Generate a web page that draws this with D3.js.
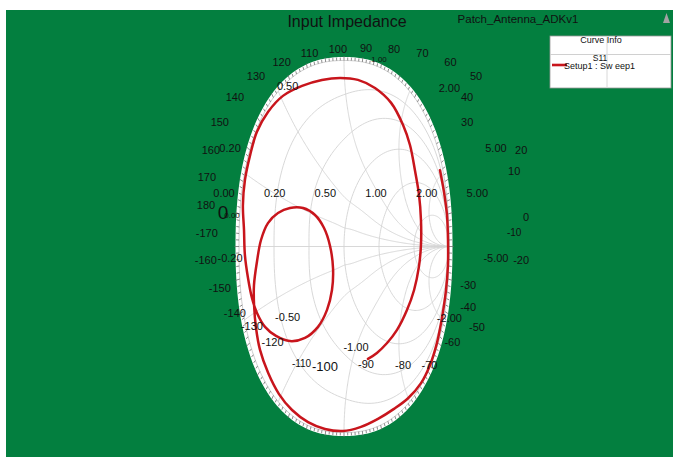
<!DOCTYPE html>
<html>
<head>
<meta charset="utf-8">
<script src="https://cdn.jsdelivr.net/npm/d3@7"></script>
<style>
  body { margin: 0; background: #fff; }
  svg { display: block; font-family: "Liberation Sans", Arial, sans-serif; }
</style>
</head>
<body>
<svg id="chart" width="673" height="457"></svg>
<script>
// S11 frequency sweep, reflection coefficient (real / imaginary)
const s11Re = [0.223, 0.303, 0.393, 0.483, 0.579, 0.654, 0.709, 0.733, 0.727, 0.698,
  0.651, 0.601, 0.538, 0.433, 0.289, 0.132, -0.038, -0.208, -0.388, -0.558,
  -0.692, -0.795, -0.864, -0.922, -0.952, -0.950, -0.943, -0.907, -0.861, -0.807,
  -0.726, -0.621, -0.492, -0.356, -0.239, -0.157, -0.111, -0.100, -0.133, -0.184,
  -0.266, -0.377, -0.502, -0.619, -0.719, -0.790, -0.827, -0.847, -0.838, -0.811,
  -0.768, -0.691, -0.593, -0.478, -0.335, -0.180, -0.010, 0.161, 0.317, 0.460,
  0.585, 0.701, 0.785, 0.854, 0.910, 0.960, 0.987, 0.990, 0.974, 0.936, 0.889];
const s11Im = [-0.591, -0.553, -0.497, -0.429, -0.330, -0.229, -0.109, 0.008, 0.140, 0.271,
  0.395, 0.522, 0.625, 0.745, 0.835, 0.891, 0.906, 0.885, 0.839, 0.777,
  0.691, 0.591, 0.475, 0.350, 0.220, 0.089, -0.046, -0.168, -0.272, -0.348,
  -0.417, -0.461, -0.486, -0.471, -0.417, -0.331, -0.227, -0.111, 0.003, 0.096,
  0.163, 0.200, 0.202, 0.177, 0.125, 0.035, -0.083, -0.205, -0.308, -0.424,
  -0.534, -0.649, -0.760, -0.849, -0.924, -0.973, -0.992, -0.963, -0.908, -0.844,
  -0.782, -0.702, -0.610, -0.500, -0.374, -0.231, -0.099, 0.035, 0.167, 0.288, 0.399];

// Smith chart grid
const resistanceValues = [0.2, 0.5, 1, 2, 5];
const reactanceValues = [0.2, 0.5, 1, 2, 5, -0.2, -0.5, -1, -2, -5];

// Labels
const angleLabels = [0, 10, 20, 30, 40, 50, 60, 70, 80, 90, 100, 110, 120, 130, 140, 150, 160, 170, 180,
  -170, -160, -150, -140, -130, -120, -110, -100, -90, -80, -70, -60, -50, -40, -30, -20, -10];
const resistanceLabels = [0, 0.2, 0.5, 1, 2, 5];
const reactanceLabels = [0, 0.2, 0.5, 1, 2, 5, -0.2, -0.5, -1, -2, -5];
const seriesNames = ["Setup1 : Sw eep1"];
const traceName = "S11";
const chartTitle = "Input Impedance";
const designName = "Patch_Antenna_ADKv1";

const W = 673, H = 457;
const svg = d3.select("#chart");

// page background
svg.append("rect").attr("x", 6).attr("y", 10).attr("width", W - 6).attr("height", H - 10)
  .attr("fill", "#037f3f");

// chart geometry (rounded outline, as the plot window draws it)
const cx = 344, cy = 246.5, rx = 105, ry = 186;
const sx = d3.scaleLinear().domain([-1, 1]).range([cx - rx, cx + rx]);
const sy = d3.scaleLinear().domain([-1, 1]).range([cy + ry, cy - ry]);
function bulge(phi, n) {
  return Math.pow(Math.pow(Math.abs(Math.cos(phi)), n) + Math.pow(Math.abs(Math.sin(phi)), n), -1 / n);
}
function project(p) {
  const k = bulge(Math.atan2(p[1], p[0]), 2.3);
  return [sx(p[0] * k), sy(p[1] * k)];
}
const gammaLine = d3.line().x(d => project(d)[0]).y(d => project(d)[1]);
// normalised impedance -> reflection coefficient
function gamma(a, b) {
  const den = (a + 1) * (a + 1) + b * b;
  return [(a * a - 1 + b * b) / den, (2 * b) / den];
}

const chart = svg.append("g");

// unit boundary with white tick band
const unitPts = d3.range(0, 361, 1).map(t => [Math.cos(t * Math.PI / 180), Math.sin(t * Math.PI / 180)]);
chart.append("path").attr("d", gammaLine(unitPts) + "Z")
  .attr("fill", "#fff").attr("stroke", "#fff").attr("stroke-width", 7);

// constant resistance circles
const grid = chart.append("g").attr("fill", "none").attr("stroke", "#d4d4d4").attr("stroke-width", 0.9);
resistanceValues.forEach(r => {
  const c = r / (1 + r), R = 1 / (1 + r);
  const pts = d3.range(0, 361, 2).map(t => [c + R * Math.cos(t * Math.PI / 180), R * Math.sin(t * Math.PI / 180)]);
  grid.append("path").attr("d", gammaLine(pts));
});
// constant reactance arcs
reactanceValues.forEach(x => {
  const pts = d3.range(0, 0.999, 0.005).map(t => gamma(Math.tan(t * Math.PI / 2), x));
  pts.push([1, 0]);
  grid.append("path").attr("d", gammaLine(pts));
});
// real axis and unit outline
grid.append("path").attr("d", gammaLine([[-1, 0], [1, 0]]));
grid.append("path").attr("d", gammaLine(unitPts)).attr("stroke", "#c8c8c8");

// boundary ticks
const tickG = chart.append("g").attr("stroke", "#6e6e6e").attr("stroke-width", 0.8);
d3.range(0, 360, 2).forEach(deg => {
  const a = deg * Math.PI / 180;
  const p = project([Math.cos(a), Math.sin(a)]);
  const dx = p[0] - cx, dy = p[1] - cy, n = Math.hypot(dx, dy);
  const len = deg % 10 === 0 ? 4.5 : 3;
  tickG.append("line").attr("x1", p[0]).attr("y1", p[1])
    .attr("x2", p[0] + dx / n * len).attr("y2", p[1] + dy / n * len);
});

// S11 trace
const trace = s11Re.map((re, i) => [re, s11Im[i]]);
chart.append("path")
  .attr("d", d3.line().x(d => project(d)[0]).y(d => project(d)[1]).curve(d3.curveCatmullRom)(trace))
  .attr("fill", "none").attr("stroke", "#c8151c").attr("stroke-width", 2.5)
  .attr("stroke-linejoin", "round").attr("stroke-linecap", "round");

// labels
const labels = svg.append("g").attr("fill", "#111").attr("text-anchor", "middle")
  .attr("dominant-baseline", "central");

// phase angle ring
const angleSize = { "-10": 10, "-110": 10, "-100": 13 };
const angleShift = { "0": [0, 12], "10": [-11, -6], "-10": [-11, 0], "30": [-45, 0], "40": [-30, 0],
  "-30": [-44, -3], "-40": [-29, -6], "-50": [1, -7], "-60": [2, -6], "-70": [7, 8], "-80": [9, 4],
  "-90": [0, 2], "-100": [-13, 5], "-110": [-8, 6], "-120": [-9, -6], "-130": [-4, -8], "-160": [-5, 0] };
const ax = d3.scaleLinear().domain([-1, 1]).range([366 - 160, 366 + 160]);
const ay = d3.scaleLinear().domain([-1, 1]).range([205 + 157, 205 - 157]);
angleLabels.forEach(v => {
  const a = v * Math.PI / 180;
  const k = bulge(a, 2.5);
  const s = angleShift[v] || [0, 0];
  labels.append("text").attr("x", ax(Math.cos(a) * k) + s[0]).attr("y", ay(Math.sin(a) * k) + s[1])
    .attr("font-size", angleSize[v] || 11).text(String(v));
});

// resistance values along the real axis
const rxs = d3.scaleLinear().domain([-1, 1]).range([376 - 152, 376 + 152]);
resistanceLabels.forEach(r => {
  labels.append("text").attr("x", rxs(gamma(r, 0)[0])).attr("y", 193)
    .attr("font-size", 11).text(r.toFixed(2));
});

// reactance values
const qx = d3.scaleLinear().domain([-1, 1]).range([363 - 144, 363 + 144]);
const qy = d3.scaleLinear().domain([-1, 1]).range([203 + 144, 203 - 144]);
reactanceLabels.forEach(x => {
  const a = Math.PI - 2 * Math.atan(x);
  let px = qx(Math.cos(a)), py = qy(Math.sin(a)), fs = 11;
  if (x === 0) { px += 13; py += 12; fs = 8; }
  if (x === 1) { px += 16; fs = 8; }
  if (Math.abs(x) === 0.5) { px += 11; py += x > 0 ? -2 : -1; }
  if (x === -1) { px -= 7; }
  labels.append("text").attr("x", px).attr("y", py).attr("font-size", fs).text(x.toFixed(2));
  if (x === 0) {
    labels.append("text").attr("x", px - 9).attr("y", py - 3).attr("font-size", 19).text("0");
  }
});

// title and design name
svg.append("text").attr("x", 347).attr("y", 21).attr("text-anchor", "middle")
  .attr("dominant-baseline", "central").attr("font-size", 16).attr("fill", "#111").text(chartTitle);
svg.append("text").attr("x", 518).attr("y", 19).attr("text-anchor", "middle")
  .attr("dominant-baseline", "central").attr("font-size", 11.5).attr("fill", "#111").text(designName);

// small marker icon
svg.append("path").attr("d", "M663,23 L666.5,13 L670,23 Z").attr("fill", "#a3a3a3");

// curve info box
const leg = svg.append("g");
leg.append("rect").attr("x", 550).attr("y", 36).attr("width", 121).attr("height", 52)
  .attr("fill", "#fff").attr("stroke", "#9a9a9a").attr("stroke-width", 0.8);
leg.append("line").attr("x1", 550).attr("x2", 671).attr("y1", 54.5).attr("y2", 54.5)
  .attr("stroke", "#d0d0d0");
leg.append("line").attr("x1", 607).attr("x2", 607).attr("y1", 36).attr("y2", 88)
  .attr("stroke", "#d8d8d8");
leg.append("text").attr("x", 601).attr("y", 40).attr("text-anchor", "middle")
  .attr("dominant-baseline", "central").attr("font-size", 9).attr("fill", "#111").text("Curve Info");
leg.append("text").attr("x", 600).attr("y", 57.5).attr("text-anchor", "middle")
  .attr("dominant-baseline", "central").attr("font-size", 8.5).attr("fill", "#111").text(traceName);
seriesNames.forEach((name, i) => {
  leg.append("line").attr("x1", 552).attr("x2", 567).attr("y1", 65 + i * 12).attr("y2", 65 + i * 12)
    .attr("stroke", "#c8151c").attr("stroke-width", 2.6);
  leg.append("text").attr("x", 564).attr("y", 66 + i * 12).attr("dominant-baseline", "central")
    .attr("font-size", 9).attr("fill", "#111").text(name);
});
</script>
</body>
</html>
